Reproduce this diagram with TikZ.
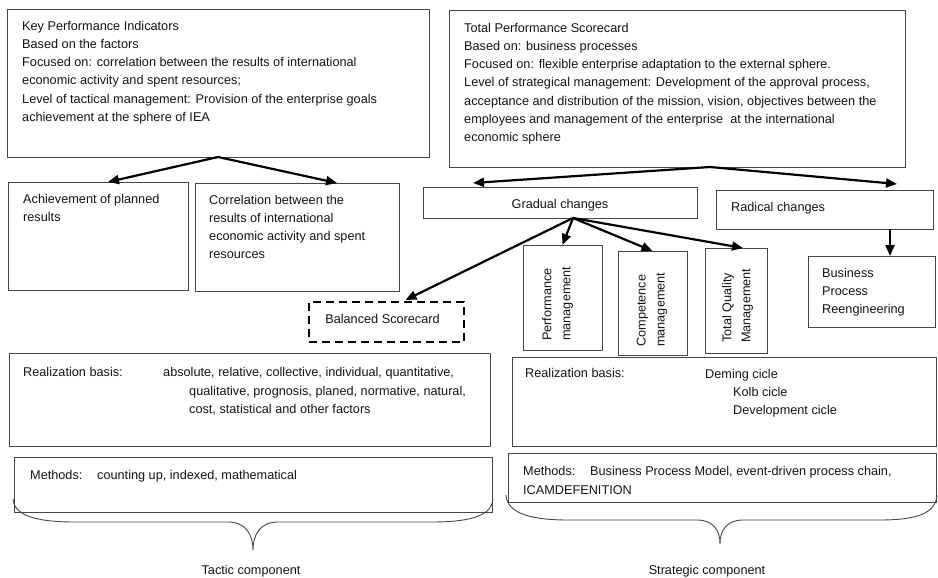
\documentclass[tikz,border=0pt]{standalone}
\usepackage{fontspec}
\setmainfont{Liberation Sans}
\usetikzlibrary{arrows.meta,calc}
\definecolor{boxcol}{RGB}{70,70,70}
\definecolor{txtcol}{RGB}{20,20,20}
\begin{document}
\begin{tikzpicture}[x=1pt,y=-1pt,
  box/.style={draw=boxcol,line width=0.9pt,anchor=north west,inner sep=0pt,outer sep=0pt,text=txtcol,font=\fontsize{12.7}{18.2}\selectfont},
  dbox/.style={box,draw=black,line width=2.2pt,dash pattern=on 8pt off 5pt},
  txt/.style={anchor=base west,align=left,inner sep=0pt,text=txtcol,font=\fontsize{12.7}{18.2}\selectfont},
  txtn/.style={txt,anchor=north west,execute at begin node=\strut},
  ctxt/.style={txt,anchor=base},
  rtxt/.style={rotate=90,anchor=west,align=left,inner sep=0pt,text=txtcol,font=\fontsize{12.7}{19}\selectfont},
  arr/.style={draw=black,line width=2.2pt,-{Triangle[length=11pt,width=9pt]}},
  brace/.style={draw=boxcol,line width=0.9pt}]
\useasboundingbox (0,0) rectangle (938,578);
% boxes
\node[box,minimum width=422,minimum height=148] (kpi) at (7,9) {};
\node[box,minimum width=180,minimum height=108] (ach) at (8,182) {};
\node[box,minimum width=204,minimum height=108] (cor) at (195,183) {};
\node[box,minimum width=456,minimum height=157] (tps) at (449,10) {};
\node[box,minimum width=274,minimum height=31,text height=14pt,text depth=1.5pt] (grad) at (423,187) {Gradual changes};
\node[box,minimum width=217,minimum height=39] (rad) at (716,190) {};
\node[box,minimum width=127,minimum height=71] (bpr) at (808,256) {};
\node[box,minimum width=79,minimum height=105] (perf) at (523,245) {};
\node[box,minimum width=69,minimum height=104] (comp) at (618,251) {};
\node[box,minimum width=62,minimum height=105] (tqm) at (705,248) {};
\node[dbox,minimum width=155,minimum height=40,text height=9.2pt,text depth=6pt] (bsc) at (309,302) {Balanced Scorecard\hspace*{8pt}};
\node[box,minimum width=481,minimum height=93] (realL) at (9,353) {};
\node[box,minimum width=478,minimum height=55] (methL) at (14,457) {};
\node[box,minimum width=424,minimum height=89] (realR) at (512,357) {};
\node[box,minimum width=428,minimum height=49] (methR) at (508,453) {};
% texts
\node[txtn] (kpit) at (22,20.8) {Key Performance Indicators\\Based on the factors\\Focused on: correlation between the results of international\\economic activity and spent resources;\\Level of tactical management: Provision of the enterprise goals\\achievement at the sphere of IEA};
\node[txtn] (tpst) at (464,22.8) {Total Performance Scorecard\\Based on: business processes\\Focused on: flexible enterprise adaptation to the external sphere.\\Level of strategical management: Development of the approval process,\\acceptance and distribution of the mission, vision, objectives between the\\employees and management of the enterprise\ \ at the international\\economic sphere};
\node[txtn] (acht) at (23,194) {Achievement of planned\\results};
\node[txtn] (cort) at (209,194.8) {Correlation between the\\results of international\\economic activity and spent\\resources};
\node[txt] (radt) at (731,211) {Radical changes};
\node[txtn] (bprt) at (822,267.8) {Business\\Process\\Reengineering};
\node[rtxt] (perft) at (557.5,341) {Performance\\management};
\node[rtxt] (compt) at (652,347) {Competence\\management};
\node[rtxt] (tqmt) at (737.5,343) {Total Quality\\Management};
\node[txt] (realLa) at (23,376.5) {Realization basis:};
\node[txtn] (realLb) at (163,367.5) {absolute, relative, collective, individual, quantitative,\\\hspace*{26pt}qualitative, prognosis, planed, normative, natural,\\\hspace*{26pt}cost, statistical and other factors};
\node[txt] (methLt) at (30,479.5) {\makebox[67pt][l]{Methods:}counting up, indexed, mathematical};
\node[txt] (realRa) at (525,377.5) {Realization basis:};
\node[txtn] (realRb) at (705,369) {Deming cicle\\\hspace*{28pt}Kolb cicle\\\hspace*{28pt}Development cicle};
\node[txtn] (methRt) at (523,466.5) {\makebox[67pt][l]{Methods:}Business Process Model, event-driven process chain,\\ICAMDEFENITION};
\node[ctxt] (tact) at (251,574) {Tactic component};
\node[ctxt] (strat) at (707,574) {Strategic component};
% arrows
\draw[arr] (kpi.south) -- ($(ach.north)+(10,0)$);
\draw[arr] (kpi.south) -- ($(cor.north)+(40,0)$);
\draw[arr] ($(tps.south)+(33,0)$) -- ($(grad.north west)+(50,-4)$);
\draw[arr] ($(tps.south)+(33,0)$) -- ($(rad.north east)+(-36,-6)$);
\draw[arr] ($(rad.south east)+(-43,0)$) -- ($(bpr.north east)+(-45,0)$);
\draw[arr] ($(grad.south)+(13,0)$) -- (perf.north);
\draw[arr] ($(grad.south)+(13,0)$) -- (comp.north);
\draw[arr] ($(grad.south)+(13,0)$) -- ($(tqm.north)+(7,0)$);
\draw[arr] ($(grad.south)+(13,0)$) -- ($(bsc.north)+(19,-2)$);
% braces
\draw[brace] (13,499) .. controls (14,514) and (32,522) .. (75,522) -- (228,522) .. controls (246,522) and (253,535) .. (253,550) .. controls (253,535) and (260,522) .. (278,522) -- (432,522) .. controls (475,522) and (492,514) .. (493,499);
\draw[brace] (506,495) .. controls (507,511) and (525,520) .. (568,520) -- (697,520) .. controls (714,520) and (720,531) .. (720,544) .. controls (720,531) and (726,520) .. (743,520) -- (880,520) .. controls (922,520) and (936,511) .. (937,495);
\end{tikzpicture}
\end{document}
